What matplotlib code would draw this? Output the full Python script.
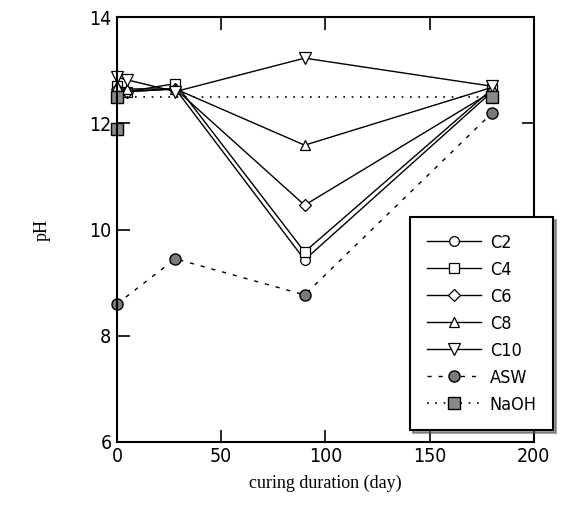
import matplotlib
matplotlib.use("Agg")
import matplotlib.pyplot as plt
from matplotlib import font_manager

# values
days_c = [0, 5, 28, 90, 180]
ph_c2 = [12.6, 12.6, 12.65, 9.43, 12.6]
ph_c4 = [12.7, 12.6, 12.75, 9.58, 12.65]
ph_c6 = [12.65, 12.6, 12.65, 10.46, 12.6]
ph_c8 = [12.7, 12.65, 12.65, 11.59, 12.68]
ph_c10 = [12.87, 12.82, 12.6, 13.23, 12.7]

days_asw = [0, 28, 90, 180]
ph_asw = [8.6, 9.45, 8.77, 12.2]

days_naoh = [0, 0, 180]
ph_naoh = [11.9, 12.5, 12.5]

# narrow gothic look of the original tick/legend text
tick_fp = font_manager.FontProperties(family=['DejaVu Sans'], stretch='condensed', size=14)
legend_fp = font_manager.FontProperties(family=['DejaVu Sans'], stretch='condensed', size=13)
label_font = ['Liberation Serif', 'DejaVu Serif']

fig = plt.figure(figsize=(5.68, 5.23), dpi=100)
ax = fig.add_axes([0.206, 0.155, 0.734, 0.812])

open_style = dict(color='black', lw=1.0, mfc='white', mec='black', ms=7, mew=0.9, clip_on=False)
ax.plot(days_c, ph_c2, marker='o', label='C2', **open_style)
ax.plot(days_c, ph_c4, marker='s', label='C4', **open_style)
ax.plot(days_c, ph_c6, marker='D', label='C6', **dict(open_style, ms=6))
ax.plot(days_c, ph_c8, marker='^', label='C8', **open_style)
ax.plot(days_c, ph_c10, marker='v', label='C10', **dict(open_style, ms=8))
ax.plot(days_asw, ph_asw, marker='o', ls=(0, (3, 5)), color='black', lw=1.0,
        mfc='#7a7a7a', mec='black', ms=8, mew=1.0, label='ASW', clip_on=False)
ax.plot(days_naoh, ph_naoh, marker='s', ls=(0, (1, 4)), color='black', lw=1.2,
        mfc='#8a8a8a', mec='black', ms=8, mew=1.0, label='NaOH', clip_on=False)

ax.set_xlim(0, 200)
ax.set_ylim(6, 14)
ax.set_xticks([0, 50, 100, 150, 200])
ax.set_yticks([6, 8, 10, 12, 14])
ax.tick_params(direction='in', length=9, width=1.2, top=True, right=True, pad=4)
for lab in ax.get_xticklabels() + ax.get_yticklabels():
    lab.set_fontproperties(tick_fp)
for sp in ax.spines.values():
    sp.set_linewidth(1.5)

ax.set_xlabel('curing duration (day)', family=label_font, fontsize=13, labelpad=6)
ax.set_ylabel('pH', family=label_font, fontsize=13, labelpad=28)

leg = ax.legend(loc='lower right', bbox_to_anchor=(1.046, 0.028), frameon=True,
                fancybox=False, shadow=True, edgecolor='black', handlelength=3.0,
                handletextpad=0.5, labelspacing=0.5, borderpad=0.9, borderaxespad=0,
                prop=legend_fp)
leg.get_frame().set_linewidth(1.5)
leg.set_zorder(10)

fig.savefig('out.png', dpi=100)
